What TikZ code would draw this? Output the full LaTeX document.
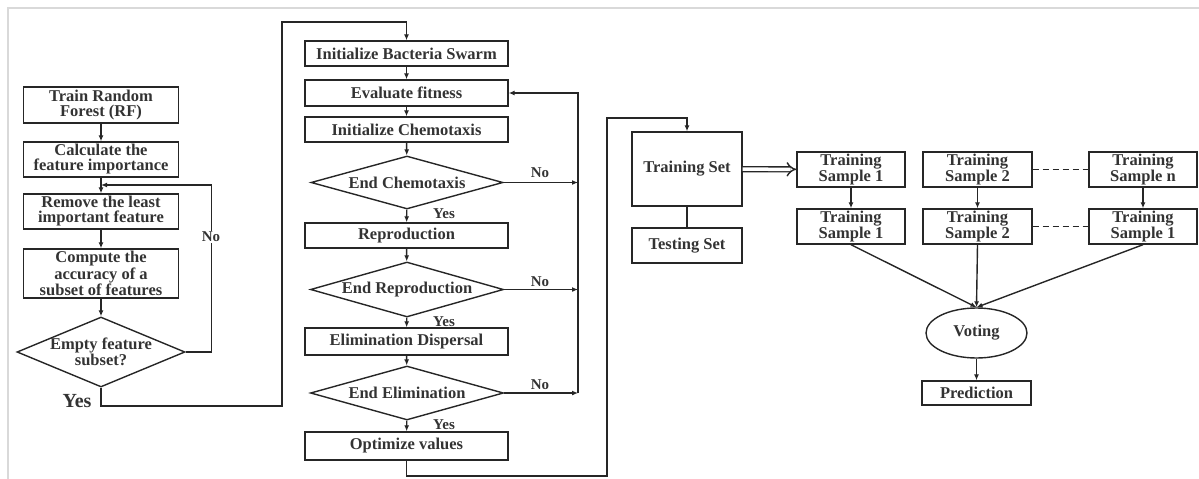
\documentclass[tikz,border=0pt]{standalone}
\usepackage{fontspec}
\setmainfont{Liberation Serif}
\usetikzlibrary{shapes.geometric,arrows.meta}
\def\bx{\node[box]}
\def\dc{\node[dec]}
\def\arr{\draw[flow]}

\begin{document}
\begin{tikzpicture}[x=1pt,y=-1pt,
    box/.style={draw=black!85,line width=1.4pt,inner sep=0pt,align=center,
        text=black!80,font=\bfseries\fontsize{16.5}{15}\selectfont},
    dec/.style={diamond,draw=black!85,line width=1.4pt,inner sep=0pt},
    every label/.append style={text=black!80,align=center,
        font=\bfseries\fontsize{16.5}{15}\selectfont},
    flow/.style={draw=black!85,line width=1.4pt,-{Latex[length=6pt,width=5pt]}},
    dots/.style={draw=black!85,line width=1.4pt,dash pattern=on 6pt off 4pt},
    tag/.style={text=black!80,font=\bfseries\fontsize{15}{15}\selectfont,inner sep=1pt}]
\useasboundingbox (0,0) rectangle (1199,479);
\draw[black!15,line width=2pt] (8,479) -- (8,8) -- (1199,8);
% feature selection
\bx[minimum width=155,minimum height=36] (rf)  at (101,105)   {Train Random\\Forest (RF)};
\bx[minimum width=155,minimum height=35] (imp) at (101,159.5) {Calculate the\\feature importance};
\bx[minimum width=155,minimum height=35] (rem) at (101,211.5) {Remove the least\\important feature};
\bx[minimum width=155,minimum height=49] (acc) at (101,273.5) {Compute the\\accuracy of a\\subset of features};
\dc[minimum width=168,minimum height=70,label=center:{Empty feature\\subset?}] (emp) at (101,352) {};
\coordinate (back1) at (101,185);
\arr (rf) -- (imp);
\arr (imp) -- (rem);
\arr (rem) -- (acc);
\arr (acc) -- (emp);
\arr (emp.east) -- ++(26,0) |- (back1);
\node[tag,fill=white] at (211,237) {No};
\node[tag,font=\bfseries\fontsize{20}{20}\selectfont] at (77,401) {Yes};
% bacterial foraging
\bx[minimum width=203,minimum height=25] (swarm) at (406.5,53.5) {Initialize Bacteria Swarm};
\bx[minimum width=203,minimum height=26] (fit)   at (406.5,93)   {Evaluate fitness};
\bx[minimum width=203,minimum height=25] (chem)  at (406.5,129.5) {Initialize Chemotaxis};
\dc[minimum width=192,minimum height=53,label=center:End Chemotaxis] (endchem) at (407,182.5) {};
\bx[minimum width=203,minimum height=25] (repro) at (406.5,235.5) {Reproduction};
\dc[minimum width=193,minimum height=55,label=center:End Reproduction] (endrepro) at (407,289.5) {};
\bx[minimum width=203,minimum height=27] (elim)  at (406.5,341.5) {Elimination Dispersal};
\dc[minimum width=193,minimum height=54,label=center:End Elimination] (endelim) at (407,393) {};
\bx[minimum width=203,minimum height=28] (opt)   at (406.5,446)  {Optimize values};
\arr (emp.south) |- (282,406) -- (282,22) -| (swarm.north);
\arr (swarm) -- (fit);
\arr (fit) -- (chem);
\arr (chem) -- (endchem);
\arr (endchem) -- (repro);
\arr (repro) -- (endrepro);
\arr (endrepro) -- (elim);
\arr (elim) -- (endelim);
\arr (endelim) -- (opt);
\coordinate (back2) at (578,393);
\arr (endchem.east) -- (endchem.east -| back2);
\arr (endrepro.east) -- (endrepro.east -| back2);
\arr (endelim.east) -- (back2);
\arr (back2) |- (fit.east);
\foreach \y in {214,322,425} \node[tag] at (444,\y) {Yes};
\foreach \y in {173,282,385} \node[tag] at (540,\y) {No};
% random forest
\bx[minimum width=110,minimum height=74] (train) at (687,169)   {Training Set};
\bx[minimum width=110,minimum height=35] (test)  at (687,245.5) {Testing Set};
\bx[minimum width=108,minimum height=35] (s1)  at (851,169.5)  {Training\\Sample 1};
\bx[minimum width=108,minimum height=35] (t1)  at (851,226.5)  {Training\\Sample 1};
\bx[minimum width=109,minimum height=35] (s2)  at (977.5,169.5) {Training\\Sample 2};
\bx[minimum width=109,minimum height=35] (t2)  at (977.5,226.5) {Training\\Sample 2};
\bx[minimum width=108,minimum height=35] (sn)  at (1143,169.5) {Training\\Sample n};
\bx[minimum width=108,minimum height=35] (tn)  at (1143,226.5) {Training\\Sample 1};
\node[box,ellipse,minimum width=101,minimum height=50] (vote) at (976.5,333) {Voting};
\bx[minimum width=109,minimum height=24] (pred) at (976.5,393) {Prediction};
\arr (opt.south) |- (607,476) -- (607,118) -| (train.north);
\draw[black!85,line width=1.4pt] (train) -- (test);
\draw[black!85,line width=1.4pt,double distance=3.5pt,-{Implies[scale=1.3]}] (train) -- (s1);
\arr (s1) -- (t1);
\arr (s2) -- (t2);
\arr (sn) -- (tn);
\draw[dots] (s2) -- (sn);
\draw[dots] (t2) -- (tn);
\arr (t1.south) -- (vote.north);
\arr (t2.south) -- (vote.north);
\arr (tn.south) -- (vote.north);
\arr (vote) -- (pred);
\end{tikzpicture}
\end{document}
